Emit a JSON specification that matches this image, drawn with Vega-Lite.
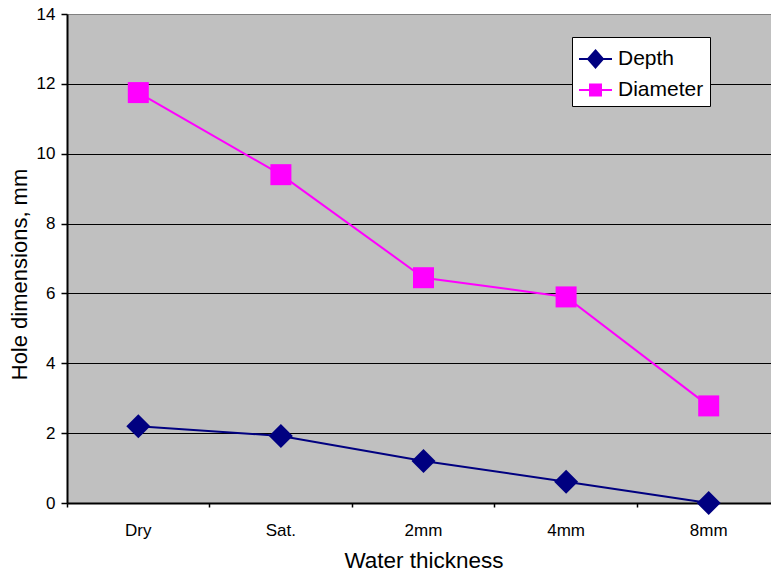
{
  "$schema": "https://vega.github.io/schema/vega-lite/v6.json",
  "width": 704,
  "height": 489,
  "autosize": {"type": "none"},
  "padding": {"left": 67, "top": 14, "right": 0, "bottom": 73},
  "background": "white",
  "config": {"font": "Liberation Sans", "view": {"fill": "#C0C0C0", "stroke": null}},
  "data": {
    "values": [
      {"water": "Dry", "series": "Depth", "value": 2.2},
      {"water": "Sat.", "series": "Depth", "value": 1.92},
      {"water": "2mm", "series": "Depth", "value": 1.2},
      {"water": "4mm", "series": "Depth", "value": 0.61},
      {"water": "8mm", "series": "Depth", "value": 0.0},
      {"water": "Dry", "series": "Diameter", "value": 11.75},
      {"water": "Sat.", "series": "Diameter", "value": 9.4},
      {"water": "2mm", "series": "Diameter", "value": 6.45},
      {"water": "4mm", "series": "Diameter", "value": 5.9},
      {"water": "8mm", "series": "Diameter", "value": 2.78}
    ]
  },
  "encoding": {
    "x": {
      "field": "water", "type": "nominal", "sort": ["Dry", "Sat.", "2mm", "4mm", "8mm"],
      "scale": {"type": "band", "range": [0, 713], "paddingInner": 0, "paddingOuter": 0},
      "axis": {
        "title": "Water thickness", "labelAngle": 0, "bandPosition": 0,
        "domainColor": "black", "domainWidth": 2, "tickColor": "black", "tickSize": 4, "tickWidth": 1.5,
        "labelFontSize": 17, "labelColor": "black", "labelPadding": 15,
        "titleFontSize": 22.5, "titleFontWeight": "normal", "titleColor": "black", "titlePadding": 11, "grid": false
      }
    },
    "y": {
      "field": "value", "type": "quantitative",
      "scale": {"domain": [0, 14], "nice": false},
      "axis": {
        "title": "Hole dimensions, mm", "values": [0, 2, 4, 6, 8, 10, 12, 14],
        "grid": true,
        "gridColor": {"condition": {"test": "datum.value === 14", "value": "#808080"}, "value": "black"},
        "gridWidth": 1, "gridOpacity": 1,
        "domainColor": "black", "domainWidth": 2, "tickColor": "black", "tickSize": 6, "tickWidth": 1.5,
        "labelFontSize": 17, "labelColor": "black", "labelPadding": 6,
        "titleFontSize": 22, "titleFontWeight": "normal", "titleColor": "black", "titlePadding": 5, "titleY": 260
      }
    }
  },
  "layer": [
    {
      "mark": {"type": "line", "strokeWidth": 2},
      "encoding": {
        "color": {"field": "series", "type": "nominal", "scale": {"domain": ["Depth", "Diameter"], "range": ["#000080", "#FF00FF"]}, "legend": null}
      }
    },
    {
      "mark": {"type": "point", "filled": true, "opacity": 1},
      "encoding": {
        "color": {"field": "series", "type": "nominal", "scale": {"domain": ["Depth", "Diameter"], "range": ["#000080", "#FF00FF"]}, "legend": null},
        "shape": {"field": "series", "type": "nominal", "scale": {"domain": ["Depth", "Diameter"], "range": ["diamond", "square"]}, "legend": null},
        "size": {"field": "series", "type": "ordinal", "scale": {"domain": ["Depth", "Diameter"], "range": [576, 441]}, "legend": null}
      }
    },
    {
      "mark": {"type": "point", "filled": true, "opacity": 0, "strokeWidth": 2},
      "encoding": {
        "fill": {
          "field": "series", "type": "nominal",
          "scale": {"domain": ["Depth", "Diameter"], "range": ["#000080", "#FF00FF"]},
          "legend": {
            "title": " ", "titleFontSize": 1, "titlePadding": 3, "orient": "none", "legendX": 505, "legendY": 23,
            "symbolSize": 484, "symbolStrokeWidth": 2, "symbolOpacity": 1,
            "labelFontSize": 21, "labelColor": "black", "labelOffset": 16,
            "fillColor": "white", "strokeColor": "black", "padding": 6, "rowPadding": 6, "cornerRadius": 0
          }
        },
        "stroke": {
          "field": "series", "type": "nominal",
          "scale": {"domain": ["Depth", "Diameter"], "range": ["#000080", "#FF00FF"]},
          "legend": {
            "title": " ", "titleFontSize": 1, "titlePadding": 3, "orient": "none", "legendX": 505, "legendY": 23,
            "symbolSize": 484, "symbolStrokeWidth": 2, "symbolOpacity": 1,
            "labelFontSize": 21, "labelColor": "black", "labelOffset": 16,
            "fillColor": "white", "strokeColor": "black", "padding": 6, "rowPadding": 6, "cornerRadius": 0
          }
        },
        "shape": {
          "field": "series", "type": "nominal",
          "scale": {"domain": ["Depth", "Diameter"], "range": ["M-1,0H2M0.5,-0.77L1.18,0L0.5,0.77L-0.18,0Z", "M-1,0H2M0,-0.5H1V0.5H0Z"]},
          "legend": {
            "title": " ", "titleFontSize": 1, "titlePadding": 3, "orient": "none", "legendX": 505, "legendY": 23,
            "symbolSize": 484, "symbolStrokeWidth": 2, "symbolOpacity": 1,
            "labelFontSize": 21, "labelColor": "black", "labelOffset": 16,
            "fillColor": "white", "strokeColor": "black", "padding": 6, "rowPadding": 6, "cornerRadius": 0
          }
        }
      }
    }
  ],
  "resolve": {"scale": {"color": "independent", "shape": "independent", "size": "independent", "stroke": "independent", "fill": "independent"}}
}
